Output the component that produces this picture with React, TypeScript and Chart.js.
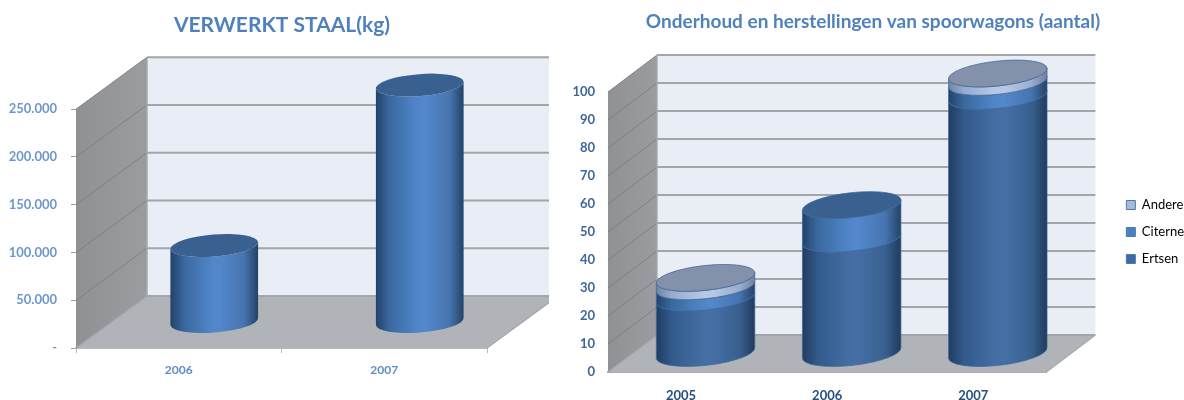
import React, { useEffect, useRef } from "react";
import { Chart, registerables, layouts } from "chart.js";

Chart.register(...registerables);

const steelYears = ["2006", "2007"];
const steelValues = [80000, 248000];
const wagonYears = ["2005", "2006", "2007"];
const ertsen = [20, 41, 92];
const citerne = [4, 12, 5];
const andere = [3, 0, 3];

const FONT = "Lato, Carlito, 'Open Sans', sans-serif";

const BRIGHT = ["#23416a", "#3a699f", "#4f85c8", "#5488cc", "#4674ae", "#234265"];
const DARK = ["#213c60", "#325a8b", "#436da3", "#466fa6", "#38608f", "#213a5c"];
const LIGHT = ["#71829f", "#98abd0", "#b6c6e4", "#b8c8e6", "#9cacce", "#6f8099"];

function fmt(v: number) {
  if (v === 0) return "-";
  return String(v).replace(/\B(?=(\d{3})+$)/g, ".");
}

function paintCylinder(ctx: CanvasRenderingContext2D, cx: number, topY: number, botY: number, rx: number, ry: number, rot: number, stops: string[], stroke: string | null) {
  const c = Math.cos(rot), s = Math.sin(rot);
  const g = ctx.createLinearGradient(cx - rx, 0, cx + rx, 0);
  const pos = [0, 0.16, 0.46, 0.56, 0.84, 1];
  stops.forEach((col, i) => g.addColorStop(pos[i], col));
  ctx.beginPath();
  ctx.moveTo(cx - rx * c, topY - rx * s);
  ctx.lineTo(cx - rx * c, botY - rx * s);
  ctx.ellipse(cx, botY, rx, ry, rot, Math.PI, 0, true);
  ctx.lineTo(cx + rx * c, topY + rx * s);
  ctx.ellipse(cx, topY, rx, ry, rot, 0, Math.PI, false);
  ctx.closePath();
  ctx.fillStyle = g;
  ctx.fill();
  if (stroke) {
    ctx.strokeStyle = stroke;
    ctx.lineWidth = 1;
    ctx.stroke();
  }
}

const scenePlugin = {
  id: "scene",
  beforeDatasetsDraw(chart: any, _a: any, o: any) {
    const { ctx, chartArea: a, scales } = chart;
    const { dx, dy, clipX } = o;
    ctx.save();
    ctx.beginPath();
    ctx.rect(0, 0, clipX, chart.height);
    ctx.clip();
    const y0 = a.bottom, yT = a.top;
    ctx.fillStyle = "#e8edf6";
    ctx.fillRect(a.left + dx, yT + dy, a.right - a.left, y0 - yT);
    const lw = ctx.createLinearGradient(a.left, 0, a.left + dx, 0);
    lw.addColorStop(0, "#8f9195");
    lw.addColorStop(1, "#9a9c9f");
    ctx.fillStyle = lw;
    ctx.beginPath();
    ctx.moveTo(a.left, y0);
    ctx.lineTo(a.left + dx, y0 + dy);
    ctx.lineTo(a.left + dx, yT + dy);
    ctx.lineTo(a.left, yT);
    ctx.closePath();
    ctx.fill();
    ctx.fillStyle = "#b0b3b8";
    ctx.beginPath();
    ctx.moveTo(a.left, y0);
    ctx.lineTo(a.right, y0);
    ctx.lineTo(a.right + dx, y0 + dy);
    ctx.lineTo(a.left + dx, y0 + dy);
    ctx.closePath();
    ctx.fill();
    scales.y.ticks.forEach((t: any) => {
      const y = scales.y.getPixelForValue(t.value);
      ctx.strokeStyle = "#7f8184";
      ctx.lineWidth = 1;
      ctx.beginPath();
      ctx.moveTo(a.left, y);
      ctx.lineTo(a.left + dx, y + dy);
      ctx.stroke();
      ctx.strokeStyle = "#a3a5a8";
      ctx.lineWidth = 2;
      ctx.beginPath();
      ctx.moveTo(a.left + dx, y + dy);
      ctx.lineTo(a.right + dx, y + dy);
      ctx.stroke();
    });
    ctx.strokeStyle = "#a6a8ab";
    ctx.lineWidth = 1.4;
    ctx.beginPath();
    ctx.moveTo(a.right, y0);
    ctx.lineTo(a.right + dx, y0 + dy);
    ctx.moveTo(a.left + dx, yT + dy);
    ctx.lineTo(a.left + dx, y0 + dy);
    ctx.moveTo(a.left, y0);
    ctx.lineTo(a.left + dx, y0 + dy);
    ctx.stroke();
    ctx.restore();
  },
  afterDatasetsDraw(chart: any, _a: any, o: any) {
    const { ctx } = chart;
    const { dx, dy, ryRatio, rot, stroke } = o;
    const n = chart.data.labels.length;
    for (let i = 0; i < n; i++) {
      let cap: any = null;
      chart.data.datasets.forEach((ds: any, d: number) => {
        const el = chart.getDatasetMeta(d).data[i];
        if (!ds.data[i]) return;
        const p = el.getProps(["x", "y", "base", "width"], true);
        const cx = p.x + dx / 2;
        const rx = p.width / 2;
        const ry = rx * ryRatio;
        const top = p.y + dy / 2, bot = p.base + dy / 2;
        paintCylinder(ctx, cx, top, bot, rx, ry, rot, ds.stops, stroke);
        cap = { cx, top, rx, ry, color: ds.capColor };
      });
      if (cap) {
        ctx.beginPath();
        ctx.ellipse(cap.cx, cap.top, cap.rx, cap.ry, rot, 0, Math.PI * 2);
        ctx.fillStyle = cap.color;
        ctx.fill();
        if (stroke) {
          ctx.strokeStyle = stroke;
          ctx.lineWidth = 1;
          ctx.stroke();
        }
      }
    }
  },
};

const spacerPlugin = {
  id: "legendGap",
  start(chart: any, _a: any, o: any) {
    if (!o.width) return;
    layouts.addBox(chart, {
      position: "right",
      weight: 500,
      fullSize: false,
      options: {},
      width: o.width,
      height: 0,
      isHorizontal: () => false,
      update(this: any, _w: number, h: number) {
        this.width = o.width;
        this.height = h;
      },
      draw() {},
    } as any);
  },
};

function makeLeft(canvas: HTMLCanvasElement) {
  return new Chart(canvas, {
    type: "bar",
    plugins: [scenePlugin, spacerPlugin],
    data: {
      labels: steelYears,
      datasets: [
        {
          label: "Verwerkt staal",
          data: steelValues,
          backgroundColor: "transparent",
          barPercentage: 0.428,
          categoryPercentage: 1,
          stops: BRIGHT,
          capColor: "#3a6090",
        } as any,
      ],
    },
    options: {
      animation: false,
      responsive: false,
      plugins: {
        legend: { display: false },
        tooltip: { enabled: false },
        title: {
          display: true,
          text: "VERWERKT STAAL(kg)",
          color: "#4f81bd",
          font: { family: FONT, size: 21, weight: "bold", lineHeight: 1.2 },
          padding: { top: 13, bottom: 71 },
        },
        legendGap: { width: 77 },
        scene: { dx: 71, dy: -52, clipX: 549, ryRatio: 0.25, rot: -0.08, stroke: null },
      } as any,
      scales: {
        x: {
          afterFit: (s: any) => { s.height = 52; },
          grid: { drawOnChartArea: false, drawTicks: true, tickLength: 5, color: "#b9babd" },
          border: { color: "#b9babd", width: 2 },
          ticks: { color: "#5f8cc6", font: { family: FONT, size: 12, weight: "bold" }, padding: 10 },
        },
        y: {
          min: 0,
          max: 250000,
          afterFit: (s: any) => { s.width = 76; },
          grid: { drawOnChartArea: false, drawTicks: true, tickLength: 5, color: "#9c9ea1" },
          border: { display: false },
          ticks: {
            stepSize: 50000,
            color: "#6a97d0",
            font: { family: FONT, size: 13, weight: "bold" },
            padding: 14,
            callback: (v: any) => fmt(Number(v)),
          },
        },
      },
    },
  });
}

function makeRight(canvas: HTMLCanvasElement) {
  const common = { backgroundColor: "transparent", barPercentage: 0.678, categoryPercentage: 1 };
  return new Chart(canvas, {
    type: "bar",
    plugins: [scenePlugin, spacerPlugin],
    data: {
      labels: wagonYears,
      datasets: [
        { label: "Ertsen", data: ertsen, stops: DARK, capColor: "#3a6090", swatch: "#3f6ba3", ...common } as any,
        { label: "Citerne", data: citerne, stops: BRIGHT, capColor: "#3a6090", swatch: "#4a80c4", ...common } as any,
        { label: "Andere", data: andere, stops: LIGHT, capColor: "#8391ab", swatch: "#a9b9da", ...common } as any,
      ],
    },
    options: {
      animation: false,
      responsive: false,
      plugins: {
        tooltip: { enabled: false },
        title: {
          display: true,
          text: "Onderhoud en herstellingen van spoorwagons (aantal)",
          color: "#4f81bd",
          font: { family: FONT, size: 19, weight: "bold", lineHeight: 1.2 },
          padding: { top: 10, bottom: 59.2 },
        },
        legend: {
          position: "right",
          fullSize: false,
          reverse: true,
          labels: {
            boxWidth: 9,
            boxHeight: 9,
            padding: 14,
            color: "#404040",
            font: { family: FONT, size: 13 },
            generateLabels: (c: any) =>
              c.data.datasets.map((ds: any, i: number) => ({
                text: ds.label,
                fillStyle: ds.swatch,
                strokeStyle: "#4a78b0",
                lineWidth: 1,
                hidden: false,
                datasetIndex: i,
              })),
          },
        },
        legendGap: { width: 66 },
        scene: { dx: 49, dy: -37, clipX: 9999, ryRatio: 0.25, rot: -0.11, stroke: "rgba(62,104,156,0.75)" },
      } as any,
      scales: {
        x: {
          stacked: true,
          afterFit: (s: any) => { s.height = 28; },
          grid: { drawOnChartArea: false, drawTicks: false, color: "#b9babd" },
          border: { color: "#a9abae", width: 2 },
          ticks: { color: "#234f85", font: { family: FONT, size: 13, weight: "bold" }, padding: 16 },
        },
        y: {
          stacked: true,
          min: 0,
          max: 100,
          afterFit: (s: any) => { s.width = 56; },
          grid: { drawOnChartArea: false, drawTicks: false },
          border: { display: false },
          ticks: {
            stepSize: 10,
            color: "#3d669c",
            font: { family: FONT, size: 13, weight: "bold" },
            padding: 13,
          },
        },
      },
    },
  });
}

export default function App() {
  const leftRef = useRef<HTMLCanvasElement>(null);
  const rightRef = useRef<HTMLCanvasElement>(null);
  useEffect(() => {
    const a = makeLeft(leftRef.current!);
    const b = makeRight(rightRef.current!);
    return () => {
      a.destroy();
      b.destroy();
    };
  }, []);
  const base: React.CSSProperties = { position: "absolute", top: 0, filter: "blur(0.6px)" };
  return (
    <div style={{ position: "fixed", left: 0, top: 0, width: 1184, height: 400, background: "#fff", overflow: "hidden" }}>
      <canvas ref={leftRef} width={564} height={400} style={{ ...base, left: 0, width: 564, height: 400 }} />
      <canvas ref={rightRef} width={642} height={400} style={{ ...base, left: 552, width: 642, height: 400 }} />
    </div>
  );
}
